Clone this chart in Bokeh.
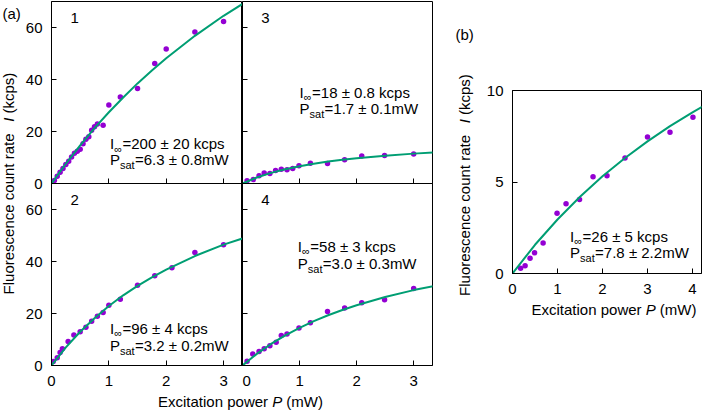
import math
from bokeh.plotting import figure
from bokeh.layouts import row, column, Spacer
from bokeh.models import Range1d, FixedTicker
from bokeh.core.properties import value
from bokeh.embed import file_html
from bokeh.resources import INLINE

FONT = "Liberation Sans"
PURPLE = "#9400d3"
GREEN = "#009e73"

# ---------------- data ----------------
p1_power = [0.05, 0.1, 0.15, 0.2, 0.25, 0.3, 0.35, 0.4, 0.45, 0.5, 0.55, 0.6, 0.65, 0.7, 0.75, 0.8, 0.9, 1.0, 1.2, 1.5, 1.8, 2.0, 2.5, 3.0]
p1_rate = [1.2, 2.8, 4.3, 5.8, 7.3, 8.6, 10.2, 11.6, 12.4, 13.2, 15.3, 17.0, 18.0, 20.5, 21.8, 22.9, 22.4, 30.2, 33.3, 36.5, 46.2, 51.7, 58.3, 62.3]

p2_power = [0.03, 0.1, 0.15, 0.19, 0.29, 0.39, 0.5, 0.6, 0.7, 0.8, 0.9, 1.0, 1.2, 1.5, 1.8, 2.1, 2.5, 3.0]
p2_rate = [1.5, 3.0, 5.0, 6.4, 9.2, 11.7, 13.0, 14.7, 17.0, 18.9, 20.4, 23.2, 25.5, 30.9, 34.5, 37.6, 43.5, 46.4]

p3_power = [0.08, 0.19, 0.29, 0.38, 0.48, 0.58, 0.68, 0.78, 0.88, 0.99, 1.19, 1.49, 1.79, 2.09, 2.49, 3.0]
p3_rate = [1.1, 1.5, 3.0, 4.0, 3.8, 5.0, 5.5, 5.3, 5.8, 6.8, 7.8, 7.7, 9.1, 10.6, 10.8, 11.3]

p4_power = [0.08, 0.18, 0.29, 0.38, 0.48, 0.59, 0.68, 0.78, 0.99, 1.19, 1.49, 1.79, 2.09, 2.49, 3.0]
p4_rate = [1.6, 4.4, 5.4, 6.4, 7.6, 8.9, 11.5, 12.1, 14.4, 16.4, 20.8, 22.1, 24.1, 25.3, 29.6]

pb_power = [0.18, 0.28, 0.39, 0.49, 0.68, 0.99, 1.19, 1.49, 1.79, 2.1, 2.5, 3.0, 3.5, 4.01]
pb_rate = [0.29, 0.43, 0.83, 1.13, 1.67, 3.29, 3.81, 4.05, 5.29, 5.34, 6.31, 7.46, 7.72, 8.54]

# saturation fit curves
fit_power_a = [0, 0.25, 0.5, 0.75, 1.0, 1.25, 1.5, 1.75, 2.0, 2.5, 3.0, 3.5]
fit1_rate = [0, 7.6, 14.7, 21.3, 27.4, 33.1, 38.5, 43.5, 48.2, 56.8, 64.5, 71.4]
fit2_rate = [0, 6.96, 12.97, 18.2, 22.9, 27.0, 30.6, 33.9, 36.9, 42.1, 46.5, 50.1]
fit3_rate = [0, 2.31, 4.09, 5.51, 6.67, 7.63, 8.44, 9.13, 9.73, 10.71, 11.49, 12.12]
fit4_rate = [0, 4.46, 8.29, 11.6, 14.5, 17.06, 19.33, 21.37, 23.2, 26.36, 29.0, 31.2]
fit_power_b = [0, 0.5, 1.0, 1.5, 2.0, 2.5, 3.0, 3.5, 4.0, 4.5]
fitb_rate = [0, 1.57, 2.95, 4.19, 5.31, 6.31, 7.22, 8.05, 8.81, 9.51]

x_ticks_a = [0, 1, 2, 3]
y_ticks_a = [0, 20, 40, 60]
x_ticks_b = [0, 1, 2, 3, 4]
y_ticks_b = [0, 5, 10]

panel_names = ["1", "2", "3", "4"]
i_inf = ["=200 ± 20 kcps", "=96 ± 4 kcps", "=18 ± 0.8 kcps", "=58 ± 3 kcps"]
p_sat = ["=6.3 ± 0.8mW", "=3.2 ± 0.2mW", "=1.7 ± 0.1mW", "=3.0 ± 0.3mW"]
i_inf_b = "=26 ± 5 kcps"
p_sat_b = "=7.8 ± 2.2mW"

X_LABEL = ["Excitation power", "P", "(mW)"]
Y_LABEL = ["Fluorescence count rate", "I", "(kcps)"]

FS = 15  # px
SPACE = 4.17
SHIFT = 0.47  # em: rendered baseline sits this far below the anchor
W_REG = {"Excitation power": 110.0, "P": 10.0, "(mW)": 36.6,
         "Fluorescence count rate": 168.4, "I": 4.17, "(kcps)": 40.8}


def style_axis(ax, ticks, show, standoff):
    ax.ticker = FixedTicker(ticks=ticks)
    ax.major_tick_in = 5
    ax.major_tick_out = 0
    ax.minor_tick_line_color = None
    ax.axis_line_color = "black"
    ax.major_tick_line_color = "black"
    ax.major_label_text_font = FONT
    if show:
        ax.major_label_text_color = "black"
        ax.major_label_text_font_size = "15px"
        ax.major_label_standoff = standoff
    else:
        ax.major_label_text_color = None
        ax.major_label_text_font_size = "0px"
        ax.major_label_standoff = 0


def txt(p, x, y, s, size=FS, style="normal", angle=0.0, ux=1.0, uy=1.0):
    # ux, uy: data units per pixel; compensate the renderer's baseline shift
    if angle == 0.0:
        y = y + SHIFT * size * uy
    else:
        x = x - SHIFT * size * ux
    p.text(x=[x], y=[y], text=[s], text_font=value(FONT), text_font_size=value(f"{size}px"),
           text_font_style=value(style), text_color="black", text_align="left",
           text_baseline="alphabetic", angle=angle)


def make_panel(px, py, fx, fy, xmax, ymax, xt, yt, fw, fh, bl, br, bt, bb, showx, showy):
    p = figure(frame_width=fw, frame_height=fh, x_range=Range1d(0, xmax), y_range=Range1d(0, ymax),
               min_border=0, min_border_left=bl, min_border_right=br, min_border_top=bt,
               min_border_bottom=bb, output_backend="svg", toolbar_location=None, title=None)
    p.grid.visible = False
    p.outline_line_color = "black"
    p.outline_line_width = 1
    style_axis(p.xaxis[0], xt, showx, 10)
    style_axis(p.yaxis[0], yt, showy, 9)
    p.scatter(px, py, size=5.5, color=PURPLE, line_color=None)
    p.line(fx, fy, line_color=GREEN, line_width=2)
    return p


def stats(p, x, y1, y2, rest1, rest2, xmax, ymax, fw, fh):
    dx = xmax / fw  # data per px
    dy = ymax / fh
    kw = dict(ux=dx, uy=dy)
    txt(p, x, y1, "I", **kw)
    txt(p, x + 4.17 * dx, y1 - 3 * dy, "∞", size=11, **kw)
    txt(p, x + 12.5 * dx, y1, rest1, **kw)
    txt(p, x, y2, "P", **kw)
    txt(p, x + 10.0 * dx, y2 - 3.5 * dy, "sat", size=11, **kw)
    txt(p, x + 25.0 * dx, y2, rest2, **kw)


XA, YA, FHA = 3.33, 70, 182
BOT = 29
OVL = 10  # top row keeps room below its frame for the "0" label; bottom row overlaps it
tl = make_panel(p1_power, p1_rate, fit_power_a, fit1_rate, XA, YA, x_ticks_a, y_ticks_a, 191, FHA, 28, 0, 1, OVL, False, True)
tr = make_panel(p3_power, p3_rate, fit_power_a, fit3_rate, XA, YA, x_ticks_a, y_ticks_a, 190, FHA, 0, 1, 1, OVL, False, False)
bl = make_panel(p2_power, p2_rate, fit_power_a, fit2_rate, XA, YA, x_ticks_a, y_ticks_a, 191, FHA, 28, 0, 0, BOT, True, True)
br = make_panel(p4_power, p4_rate, fit_power_a, fit4_rate, XA, YA, x_ticks_a, y_ticks_a, 190, FHA, 0, 1, 0, BOT, True, False)
for p in (bl, br):
    p.border_fill_alpha = 0
    p.background_fill_alpha = 0

for p, name, w in zip([tl, bl, tr, br], panel_names, [191, 191, 190, 190]):
    txt(p, 0.33, 61, name, ux=XA / w, uy=YA / FHA)

stats(tl, 1.02, 12.5, 6.4, i_inf[0], p_sat[0], XA, YA, 191, FHA)
stats(bl, 1.02, 11.5, 5.0, i_inf[1], p_sat[1], XA, YA, 191, FHA)
stats(tr, 1.00, 32.3, 26.0, i_inf[2], p_sat[2], XA, YA, 190, FHA)
stats(br, 0.97, 43.2, 36.6, i_inf[3], p_sat[3], XA, YA, 190, FHA)

XB, YB, FHB = 4.2, 10, 183
TOPB = 8
pb = make_panel(pb_power, pb_rate, fit_power_b, fitb_rate, XB, YB, x_ticks_b, y_ticks_b, 189, FHB, 35, 1, TOPB, BOT, True, True)
stats(pb, 1.28, 1.64, 0.74, i_inf_b, p_sat_b, XB, YB, 189, FHB)


def blank(w, h, bl=0, br=0):
    p = figure(frame_width=w, frame_height=h, x_range=Range1d(0, w), y_range=Range1d(0, h),
               min_border=0, min_border_left=bl, min_border_right=br, min_border_top=0,
               min_border_bottom=0, x_axis_location=None, y_axis_location=None,
               output_backend="svg", toolbar_location=None, title=None)
    p.grid.visible = False
    p.outline_line_color = None
    return p


def hlabel(p, x0, y):
    x = x0
    for s in X_LABEL:
        txt(p, x, y, s, style="italic" if s == "P" else "normal")
        x += W_REG[s] + SPACE


def vlabel(p, x, y0):
    y = y0
    for s in Y_LABEL:
        txt(p, x, y, s, style="italic" if s == "I" else "normal", angle=math.pi / 2)
        y += W_REG[s] + SPACE


# panel (a) labels
HA = 1 + 2 * FHA + BOT
ya = blank(22, HA)
vlabel(ya, 15, HA - (1 + FHA) - 110.9)
txt(ya, 2, HA - 20.5, "(a)")
xa = blank(432, 18)
hlabel(xa, 157.5, 3.5)

# panel (b) labels (xb frame aligned with pb frame)
SPB = 90 - TOPB
HB = SPB + TOPB + FHB + BOT + 18
yb = blank(44, HB)
vlabel(yb, 38, HB - (SPB + TOPB + FHB / 2 + 3) - 110.9)
txt(yb, 22, HB - 41, "(b)")
xb = blank(189, 18, bl=35, br=1)
hlabel(xb, 19, 3.5)

rows_a = column(row(tl, tr), row(bl, br, styles={"margin-top": f"-{OVL}px"}))
col_a = column(row(ya, rows_a), xa)
col_b = row(yb, column(Spacer(width=225, height=SPB), pb, xb))
layout = row(col_a, col_b)

open("out.html", "w").write(file_html(layout, INLINE))
